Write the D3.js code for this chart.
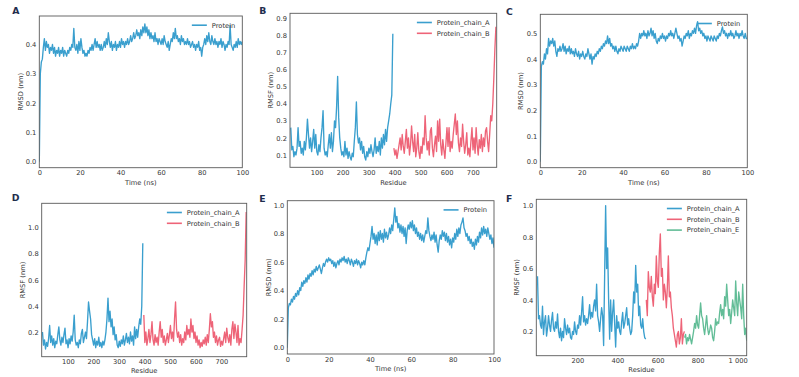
<!DOCTYPE html>
<html>
<head>
<meta charset="utf-8">
<script src="https://cdn.jsdelivr.net/npm/d3@7"></script>
<style>
  body { margin: 0; background: #fff; }
  svg { display: block; }
</style>
</head>
<body>
<div id="chart"></div>
<script>
// time axis of the RMSD runs, one frame every 0.5 ns
var timeNs = d3.range(0, 100.25, 0.5);

// A : RMSD (nm)
var rmsdA = [0.00,0.30,0.34,0.35,0.39,0.42,0.38,0.41,0.39,0.40,0.37,0.39,0.38,0.40,0.37,0.39,0.36,0.38,0.37,0.39,
  0.36,0.38,0.37,0.39,0.36,0.38,0.37,0.36,0.38,0.37,0.39,0.38,0.40,0.39,0.455,0.39,0.38,0.40,0.37,0.41,
  0.38,0.42,0.39,0.37,0.38,0.36,0.37,0.36,0.38,0.37,0.39,0.38,0.40,0.38,0.40,0.42,0.39,0.41,0.39,0.40,
  0.38,0.40,0.38,0.39,0.41,0.39,0.42,0.40,0.44,0.41,0.39,0.41,0.38,0.40,0.39,0.41,0.38,0.40,0.39,0.41,
  0.39,0.42,0.40,0.41,0.39,0.41,0.40,0.42,0.40,0.41,0.43,0.41,0.42,0.44,0.42,0.43,0.45,0.43,0.44,0.42,
  0.45,0.43,0.46,0.44,0.47,0.44,0.46,0.43,0.45,0.42,0.44,0.42,0.43,0.41,0.44,0.41,0.42,0.40,0.42,0.41,
  0.40,0.42,0.40,0.43,0.41,0.40,0.39,0.41,0.38,0.40,0.42,0.41,0.44,0.42,0.455,0.42,0.43,0.41,0.42,0.40,
  0.43,0.41,0.42,0.40,0.41,0.40,0.42,0.40,0.41,0.39,0.40,0.41,0.39,0.40,0.38,0.40,0.39,0.41,0.38,0.39,
  0.36,0.39,0.40,0.42,0.40,0.43,0.41,0.44,0.41,0.40,0.43,0.41,0.40,0.42,0.40,0.41,0.39,0.41,0.40,0.42,
  0.39,0.41,0.40,0.38,0.40,0.39,0.41,0.40,0.465,0.40,0.39,0.38,0.40,0.39,0.41,0.39,0.42,0.40,0.41,0.40,0.41];

// C : RMSD (nm)
var rmsdC = [0.00,0.37,0.39,0.38,0.42,0.40,0.44,0.42,0.48,0.45,0.47,0.46,0.48,0.45,0.47,0.43,0.41,0.44,0.43,0.45,
  0.43,0.44,0.46,0.43,0.45,0.42,0.44,0.43,0.45,0.42,0.44,0.42,0.43,0.41,0.44,0.42,0.41,0.43,0.40,0.42,
  0.41,0.43,0.41,0.40,0.42,0.41,0.44,0.42,0.40,0.42,0.38,0.41,0.40,0.42,0.41,0.43,0.42,0.44,0.43,0.45,
  0.44,0.46,0.45,0.47,0.46,0.49,0.46,0.48,0.45,0.46,0.44,0.45,0.43,0.45,0.43,0.42,0.44,0.43,0.45,0.44,
  0.43,0.45,0.44,0.43,0.45,0.44,0.43,0.45,0.44,0.46,0.44,0.45,0.44,0.46,0.45,0.47,0.50,0.48,0.50,0.49,
  0.51,0.49,0.50,0.48,0.51,0.49,0.50,0.52,0.49,0.51,0.48,0.50,0.47,0.46,0.48,0.47,0.49,0.48,0.50,0.48,
  0.49,0.47,0.49,0.48,0.50,0.49,0.51,0.49,0.50,0.48,0.50,0.52,0.50,0.48,0.49,0.47,0.48,0.45,0.47,0.49,
  0.48,0.50,0.49,0.51,0.48,0.50,0.49,0.51,0.50,0.52,0.50,0.53,0.545,0.51,0.52,0.50,0.51,0.49,0.50,0.48,
  0.49,0.47,0.49,0.48,0.47,0.49,0.48,0.47,0.49,0.48,0.47,0.49,0.48,0.50,0.49,0.51,0.525,0.50,0.51,0.49,
  0.50,0.48,0.50,0.49,0.51,0.49,0.50,0.48,0.49,0.51,0.49,0.50,0.48,0.50,0.49,0.51,0.49,0.48,0.50,0.48,0.48];

// E : RMSD (nm)
var rmsdE = [0.00,0.28,0.31,0.30,0.34,0.32,0.36,0.34,0.38,0.36,0.40,0.37,0.42,0.40,0.46,0.43,0.47,0.45,0.49,0.46,
  0.51,0.48,0.52,0.50,0.54,0.51,0.55,0.53,0.57,0.54,0.56,0.58,0.55,0.52,0.56,0.59,0.57,0.60,0.62,0.60,
  0.63,0.61,0.62,0.59,0.61,0.57,0.60,0.56,0.59,0.61,0.58,0.62,0.60,0.63,0.61,0.64,0.60,0.62,0.59,0.63,
  0.61,0.58,0.62,0.60,0.57,0.61,0.59,0.62,0.58,0.61,0.59,0.56,0.60,0.58,0.61,0.58,0.63,0.67,0.70,0.68,
  0.73,0.78,0.85,0.76,0.80,0.73,0.79,0.72,0.81,0.75,0.82,0.76,0.80,0.74,0.83,0.77,0.81,0.76,0.79,0.84,
  0.80,0.86,0.82,0.90,0.98,0.88,0.92,0.84,0.87,0.81,0.86,0.80,0.85,0.78,0.84,0.73,0.82,0.86,0.83,0.88,
  0.84,0.89,0.82,0.86,0.80,0.84,0.78,0.81,0.76,0.80,0.75,0.79,0.74,0.78,0.82,0.80,0.91,0.82,0.78,0.75,
  0.79,0.76,0.81,0.74,0.79,0.72,0.67,0.75,0.79,0.76,0.82,0.78,0.81,0.75,0.80,0.74,0.78,0.72,0.76,0.70,
  0.77,0.74,0.80,0.76,0.83,0.78,0.84,0.80,0.86,0.88,0.91,0.84,0.82,0.78,0.80,0.75,0.78,0.73,0.76,0.71,
  0.74,0.69,0.76,0.72,0.78,0.74,0.81,0.77,0.84,0.79,0.85,0.80,0.83,0.78,0.84,0.80,0.76,0.79,0.73,0.77,0.70];

// B : RMSF (nm), chain A from residue 1, chain B from residue 397, every 4 residues
var rmsfB_A = [0.26,0.13,0.15,0.09,0.12,0.10,0.14,0.26,0.15,0.18,0.11,0.14,0.10,0.18,0.13,0.20,0.31,0.22,0.14,0.20,
  0.12,0.18,0.25,0.14,0.22,0.12,0.10,0.16,0.12,0.20,0.26,0.36,0.14,0.10,0.12,0.09,0.16,0.22,0.14,0.23,
  0.12,0.18,0.30,0.26,0.38,0.56,0.32,0.20,0.14,0.10,0.12,0.09,0.18,0.10,0.14,0.08,0.12,0.09,0.07,0.11,
  0.09,0.18,0.26,0.41,0.22,0.17,0.20,0.13,0.18,0.11,0.15,0.09,0.07,0.12,0.09,0.14,0.11,0.16,0.12,0.09,
  0.13,0.20,0.11,0.15,0.12,0.18,0.10,0.20,0.14,0.22,0.16,0.25,0.18,0.26,0.30,0.34,0.40,0.45,0.81];
var rmsfB_B = [0.14,0.10,0.13,0.08,0.12,0.16,0.20,0.13,0.22,0.15,0.11,0.18,0.25,0.14,0.20,0.10,0.16,0.27,0.18,0.12,
  0.22,0.09,0.14,0.23,0.12,0.08,0.15,0.11,0.20,0.16,0.33,0.20,0.13,0.18,0.10,0.24,0.26,0.14,0.09,0.16,
  0.21,0.12,0.30,0.18,0.31,0.16,0.10,0.19,0.13,0.08,0.17,0.26,0.15,0.26,0.12,0.18,0.14,0.22,0.28,0.34,
  0.22,0.30,0.17,0.12,0.20,0.15,0.28,0.18,0.11,0.16,0.23,0.10,0.14,0.09,0.18,0.26,0.13,0.20,0.11,0.26,
  0.16,0.10,0.19,0.14,0.22,0.12,0.20,0.15,0.24,0.26,0.18,0.12,0.22,0.33,0.30,0.40,0.55,0.72,0.85];

// D : RMSF (nm), chain A from residue 1, chain B from residue 397, every 4 residues
var rmsfD_A = [0.20,0.10,0.14,0.07,0.12,0.09,0.15,0.25,0.12,0.17,0.10,0.15,0.08,0.13,0.11,0.18,0.24,0.14,0.10,0.16,
  0.12,0.18,0.23,0.11,0.14,0.08,0.15,0.11,0.17,0.13,0.20,0.33,0.14,0.10,0.12,0.08,0.14,0.11,0.19,0.22,
  0.12,0.16,0.20,0.15,0.28,0.43,0.36,0.30,0.18,0.14,0.10,0.15,0.08,0.13,0.10,0.16,0.09,0.12,0.08,0.13,
  0.10,0.14,0.20,0.30,0.46,0.28,0.36,0.24,0.30,0.18,0.24,0.14,0.18,0.10,0.08,0.13,0.09,0.14,0.11,0.17,
  0.10,0.14,0.19,0.12,0.16,0.11,0.20,0.13,0.17,0.10,0.24,0.15,0.22,0.16,0.24,0.30,0.26,0.40,0.88];
var rmsfD_B = [0.33,0.12,0.20,0.10,0.15,0.22,0.12,0.18,0.28,0.14,0.10,0.18,0.12,0.16,0.10,0.20,0.28,0.16,0.22,0.12,
  0.17,0.10,0.14,0.19,0.12,0.18,0.25,0.15,0.20,0.13,0.30,0.43,0.22,0.16,0.20,0.12,0.18,0.10,0.15,0.12,
  0.20,0.14,0.25,0.18,0.22,0.16,0.30,0.20,0.25,0.15,0.20,0.12,0.17,0.10,0.14,0.08,0.12,0.09,0.14,0.11,
  0.16,0.10,0.18,0.12,0.22,0.34,0.24,0.28,0.16,0.20,0.12,0.17,0.10,0.14,0.16,0.09,0.13,0.10,0.15,0.20,
  0.12,0.23,0.16,0.12,0.18,0.10,0.22,0.28,0.15,0.26,0.20,0.12,0.25,0.10,0.15,0.12,0.22,0.33,0.55,0.75,1.12];

// F : RMSF (nm), chains A (from 1), B (from 544), E (from 735), every 5 residues
var rmsfF_A = [0.55,0.28,0.30,0.24,0.22,0.36,0.18,0.26,0.30,0.17,0.22,0.30,0.24,0.20,0.27,0.32,0.22,0.20,0.26,0.22,
  0.31,0.20,0.16,0.22,0.14,0.20,0.16,0.28,0.22,0.18,0.24,0.19,0.22,0.16,0.15,0.20,0.18,0.26,0.20,0.18,
  0.24,0.22,0.30,0.24,0.32,0.42,0.26,0.30,0.24,0.28,0.25,0.30,0.37,0.28,0.32,0.29,0.36,0.40,0.33,0.50,
  0.30,0.26,0.20,0.28,0.35,0.30,0.11,0.55,1.00,0.60,0.73,0.40,0.15,0.40,0.20,0.32,0.40,0.25,0.10,0.30,
  0.22,0.26,0.20,0.18,0.26,0.32,0.22,0.25,0.30,0.35,0.24,0.28,0.22,0.18,0.20,0.30,0.45,0.38,0.62,0.45,
  0.50,0.30,0.36,0.24,0.22,0.28,0.20,0.16,0.15];
var rmsfF_B = [0.40,0.30,0.58,0.48,0.45,0.55,0.42,0.36,0.50,0.44,0.68,0.52,0.48,0.70,0.82,0.55,0.60,0.40,0.50,0.45,
  0.35,0.48,0.68,0.42,0.45,0.35,0.30,0.22,0.18,0.14,0.10,0.18,0.20,0.12,0.16,0.28,0.12,0.18,0.20];
var rmsfF_E = [0.16,0.18,0.12,0.16,0.14,0.18,0.15,0.12,0.16,0.20,0.25,0.22,0.30,0.24,0.22,0.30,0.38,0.30,0.28,0.22,
  0.18,0.24,0.30,0.22,0.18,0.20,0.24,0.22,0.16,0.14,0.20,0.28,0.24,0.26,0.25,0.32,0.37,0.30,0.34,0.28,
  0.42,0.36,0.50,0.40,0.30,0.34,0.25,0.32,0.40,0.35,0.30,0.52,0.38,0.30,0.45,0.40,0.35,0.28,0.50,0.30,
  0.18,0.22,0.14];

// residue numbers of each chain
function residues(vals, start, step) {
  return vals.map((v, i) => start + i * step);
}

var font = "DejaVu Sans";
var fontsize = 6.7;
var color_blue = "#3a9fce";
var color_red = "#ee6478";
var color_green = "#62bd97";
var color_frame = "#5a5a5a";
var color_text = "#333333";
var color_letter = "#1f2d4d";
var line_w = 1.35;

var width = 799;
var height = 377;

var svg = d3.select("div#chart")
  .append("svg")
  .attr("width", width)
  .attr("height", height);

var spaced = d3.formatLocale({ decimal: ".", thousands: " ", grouping: [3], currency: ["", ""] }).format(",");

function toPoints(xs, ys) {
  return xs.map((x, i) => [x, ys[i]]);
}

var panels = [
  { letter: "A", box: [39.3, 242.3, 16, 167.7], xDomain: [0, 100], yDomain: [-0.02, 0.497],
    xTicks: [0, 20, 40, 60, 80, 100], yTicks: [0, 0.1, 0.2, 0.3, 0.4], yFmt: d3.format(".1f"),
    xLabel: "Time (ns)", yLabel: "RMSD (nm)", letterPos: [12.3, 14], yLabelX: 20.7, xLabelY: 182.3,
    series: [{ name: "Protein", color: color_blue, pts: toPoints(timeNs, rmsdA) }] },
  { letter: "B", box: [290, 496.7, 13.3, 167.3], xDomain: [-2, 792], yDomain: [0.028, 0.929],
    xTicks: [100, 200, 300, 400, 500, 600, 700], yTicks: [0.1, 0.2, 0.3, 0.4, 0.5, 0.6, 0.7, 0.8, 0.9], yFmt: d3.format(".1f"),
    xLabel: "Residue", yLabel: "RMSF (nm)", letterPos: [259.3, 14], yLabelX: 270.7, xLabelY: 182.3,
    series: [{ name: "Protein_chain_A", color: color_blue, pts: toPoints(residues(rmsfB_A, 1, 4), rmsfB_A) },
             { name: "Protein_chain_B", color: color_red, pts: toPoints(residues(rmsfB_B, 397, 4), rmsfB_B) }] },
  { letter: "C", box: [540.3, 747.3, 14.3, 167.7], xDomain: [0, 100], yDomain: [-0.023, 0.574],
    xTicks: [0, 20, 40, 60, 80, 100], yTicks: [0, 0.1, 0.2, 0.3, 0.4, 0.5], yFmt: d3.format(".1f"),
    xLabel: "Time (ns)", yLabel: "RMSD (nm)", letterPos: [506, 15], yLabelX: 521, xLabelY: 182.3,
    series: [{ name: "Protein", color: color_blue, pts: toPoints(timeNs, rmsdC) }] },
  { letter: "D", box: [41.7, 246.7, 203.3, 356.7], xDomain: [-2, 799], yDomain: [0.011, 1.187],
    xTicks: [100, 200, 300, 400, 500, 600, 700], yTicks: [0.2, 0.4, 0.6, 0.8, 1.0], yFmt: d3.format(".1f"),
    xLabel: "Residue", yLabel: "RMSF (nm)", letterPos: [11.7, 201], yLabelX: 22.7, xLabelY: 371,
    series: [{ name: "Protein_chain_A", color: color_blue, pts: toPoints(residues(rmsfD_A, 1, 4), rmsfD_A) },
             { name: "Protein_chain_B", color: color_red, pts: toPoints(residues(rmsfD_B, 397, 4), rmsfD_B) }] },
  { letter: "E", box: [287.3, 494, 200.7, 354], xDomain: [0, 100], yDomain: [-0.044, 1.03],
    xTicks: [0, 20, 40, 60, 80, 100], yTicks: [0, 0.2, 0.4, 0.6, 0.8, 1.0], yFmt: d3.format(".1f"),
    xLabel: "Time (ns)", yLabel: "RMSD (nm)", letterPos: [259.3, 201.7], yLabelX: 268.3, xLabelY: 368.3,
    series: [{ name: "Protein", color: color_blue, pts: toPoints(timeNs, rmsdE) }] },
  { letter: "F", box: [536.3, 746.7, 199.3, 355.7], xDomain: [-5, 1045], yDomain: [0.045, 1.04],
    xTicks: [200, 400, 600, 800, 1000], yTicks: [0.2, 0.4, 0.6, 0.8, 1.0], yFmt: d3.format(".1f"), xFmt: spaced,
    xLabel: "Residue", yLabel: "RMSF (nm)", letterPos: [506, 201.7], yLabelX: 516.7, xLabelY: 370,
    series: [{ name: "Protein_chain_A", color: color_blue, pts: toPoints(residues(rmsfF_A, 1, 5), rmsfF_A) },
             { name: "Protein_chain_B", color: color_red, pts: toPoints(residues(rmsfF_B, 544, 5), rmsfF_B) },
             { name: "Protein_chain_E", color: color_green, pts: toPoints(residues(rmsfF_E, 735, 5), rmsfF_E) }] }
];

panels.forEach(function(p, k) {
  var left = p.box[0], right = p.box[1], top = p.box[2], bottom = p.box[3];
  var x = d3.scaleLinear().domain(p.xDomain).range([left, right]);
  var y = d3.scaleLinear().domain(p.yDomain).range([bottom, top]);

  var g = svg.append("g");

  g.append("clipPath")
    .attr("id", "clip" + k)
    .append("rect")
    .attr("x", left).attr("y", top)
    .attr("width", right - left).attr("height", bottom - top);

  var line = d3.line()
    .x(d => x(d[0]))
    .y(d => y(d[1]));

  var plot = g.append("g").attr("clip-path", "url(#clip" + k + ")");
  p.series.forEach(function(s) {
    plot.append("path")
      .datum(s.pts)
      .attr("d", line)
      .style("fill", "none")
      .style("stroke", s.color)
      .style("stroke-width", line_w)
      .style("stroke-linejoin", "round");
  });

  //axes, no tick marks
  var xAxis = g.append("g")
    .attr("transform", "translate(0," + bottom + ")")
    .call(d3.axisBottom(x).tickValues(p.xTicks).tickSize(0).tickPadding(3)
      .tickFormat(p.xFmt || d3.format("d")));
  var yAxis = g.append("g")
    .attr("transform", "translate(" + left + ",0)")
    .call(d3.axisLeft(y).tickValues(p.yTicks).tickSize(0).tickPadding(3).tickFormat(p.yFmt));
  [xAxis, yAxis].forEach(function(a) {
    a.select(".domain").remove();
    a.selectAll("text")
      .style("font-family", font)
      .style("font-size", fontsize + "px")
      .style("fill", color_text);
  });

  //frame
  g.append("rect")
    .attr("x", left).attr("y", top)
    .attr("width", right - left).attr("height", bottom - top)
    .style("fill", "none")
    .style("stroke", color_frame)
    .style("stroke-width", 0.9);

  //axis titles
  g.append("text")
    .attr("x", (left + right) / 2)
    .attr("y", p.xLabelY)
    .attr("dy", "0.35em")
    .attr("text-anchor", "middle")
    .style("font-family", font)
    .style("font-size", fontsize + "px")
    .style("fill", color_text)
    .text(p.xLabel);

  g.append("text")
    .attr("transform", "translate(" + p.yLabelX + "," + ((top + bottom) / 2) + ") rotate(-90)")
    .attr("dy", "0.35em")
    .attr("text-anchor", "middle")
    .style("font-family", font)
    .style("font-size", fontsize + "px")
    .style("fill", color_text)
    .text(p.yLabel);

  //panel letter
  g.append("text")
    .attr("x", p.letterPos[0])
    .attr("y", p.letterPos[1])
    .style("font-family", font)
    .style("font-size", "9.3px")
    .style("font-weight", "bold")
    .style("fill", color_letter)
    .text(p.letter);

  //legend, text ends 7px inside the right edge
  var key = g.append("g");
  var labels = p.series.map(function(s, i) {
    return key.append("text")
      .attr("y", top + 9.2 + i * 10.8)
      .attr("dy", "0.35em")
      .style("font-family", font)
      .style("font-size", fontsize + "px")
      .style("fill", color_text)
      .text(s.name);
  });
  var maxW = d3.max(labels, t => t.node().getComputedTextLength());
  var textX = right - 7 - maxW;
  labels.forEach(function(t, i) {
    t.attr("x", textX);
    key.append("line")
      .attr("x1", textX - 20).attr("x2", textX - 5)
      .attr("y1", top + 9.2 + i * 10.8).attr("y2", top + 9.2 + i * 10.8)
      .style("stroke", p.series[i].color)
      .style("stroke-width", 1.6);
  });
});
</script>
</body>
</html>
